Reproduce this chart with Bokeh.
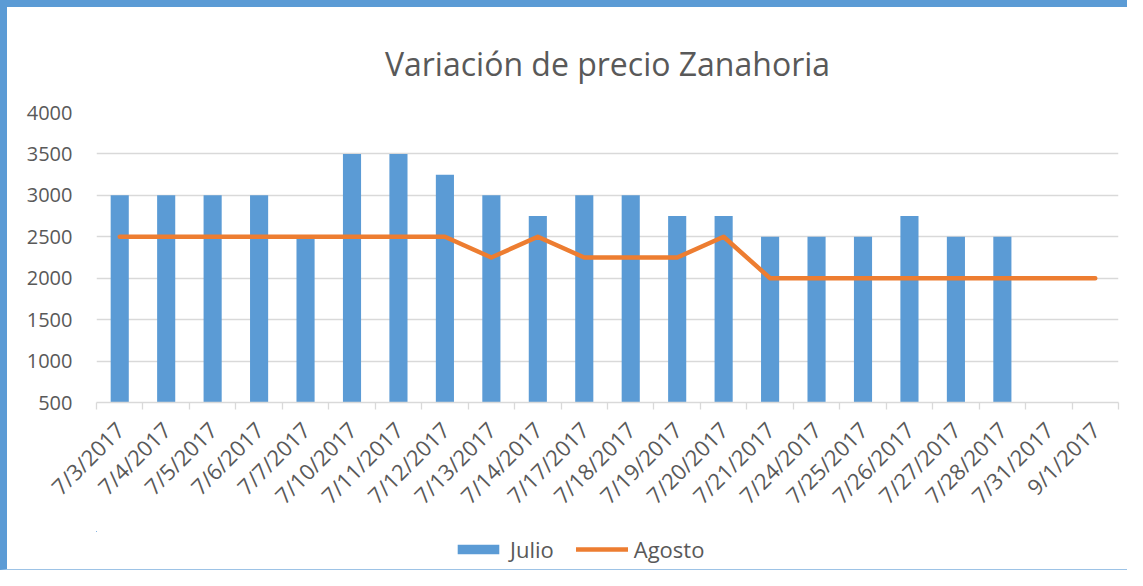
from bokeh.plotting import figure
from bokeh.models import (Legend, LegendItem, LinearAxis, FixedTicker, Range1d,
                          ColumnDataSource)
from bokeh.layouts import column
from bokeh.embed import file_html
from bokeh.resources import INLINE
import math

categories = ["7/3/2017", "7/4/2017", "7/5/2017", "7/6/2017", "7/7/2017",
              "7/10/2017", "7/11/2017", "7/12/2017", "7/13/2017", "7/14/2017",
              "7/17/2017", "7/18/2017", "7/19/2017", "7/20/2017", "7/21/2017",
              "7/24/2017", "7/25/2017", "7/26/2017", "7/27/2017", "7/28/2017",
              "7/31/2017", "9/1/2017"]
julio = [3000, 3000, 3000, 3000, 2500, 3500, 3500, 3250, 3000, 2750,
         3000, 3000, 2750, 2750, 2500, 2500, 2500, 2750, 2500, 2500,
         float("nan"), float("nan")]
agosto = [2500, 2500, 2500, 2500, 2500, 2500, 2500, 2500, 2250, 2500,
          2250, 2250, 2250, 2500, 2000, 2000, 2000, 2000, 2000, 2000,
          2000, 2000]
y_ticks = [500, 1000, 1500, 2000, 2500, 3000, 3500, 4000]

FONT = "Open Sans"
GREY = "#595959"
BLUE = "#5B9BD5"
ORANGE = "#ED7D31"
n = len(categories)
xs = list(range(n))

src = ColumnDataSource(dict(x=xs, julio=julio, agosto=agosto))

p = figure(width=1120, height=524, output_backend="svg", toolbar_location=None,
           x_range=Range1d(-0.5, n - 0.5), y_range=Range1d(y_ticks[0], y_ticks[-1]),
           x_axis_type=None, min_border_left=89, min_border_right=9,
           min_border_top=105, min_border_bottom=129)
p.outline_line_color = None

p.title.text = "Variación de precio Zanahoria"
p.title.align = "center"
p.title.text_font = FONT
p.title.text_font_size = "32px"
p.title.text_font_style = "normal"
p.title.text_color = GREY
p.title.offset = 0
p.title.standoff = 55

# y axis
p.yaxis.ticker = FixedTicker(ticks=y_ticks)
p.yaxis.axis_line_color = None
p.yaxis.major_tick_line_color = None
p.yaxis.minor_tick_line_color = None
p.yaxis.major_label_text_font = FONT
p.yaxis.major_label_text_font_size = "20px"
p.yaxis.major_label_text_color = GREY
p.yaxis.major_label_standoff = 18
p.ygrid.ticker = FixedTicker(ticks=y_ticks)
p.ygrid.grid_line_color = "#D9D9D9"
p.ygrid.grid_line_width = 1.3
p.xgrid.visible = False

# x axis with boundary ticks
bounds = [i - 0.5 for i in range(n + 1)]
tick_axis = LinearAxis(ticker=FixedTicker(ticks=bounds))
tick_axis.major_label_text_font_size = "0px"
tick_axis.major_label_text_color = None
tick_axis.axis_line_color = "#D9D9D9"
tick_axis.axis_line_width = 1.3
tick_axis.major_tick_line_color = "#D9D9D9"
tick_axis.major_tick_line_width = 1.3
tick_axis.major_tick_out = 7
tick_axis.major_tick_in = 0
tick_axis.minor_tick_line_color = None
tick_axis.major_label_standoff = 0
p.add_layout(tick_axis, "below")

label_axis = LinearAxis(ticker=FixedTicker(ticks=xs))
label_axis.major_label_overrides = {i: c for i, c in enumerate(categories)}
label_axis.major_label_orientation = math.pi / 4
label_axis.major_label_text_font = FONT
label_axis.major_label_text_font_size = "22px"
label_axis.major_label_text_color = GREY
label_axis.axis_line_color = None
label_axis.major_tick_line_color = None
label_axis.minor_tick_line_color = None
label_axis.major_label_standoff = 10
p.add_layout(label_axis, "below")

p.vbar(x="x", top="julio", bottom=0, width=0.39, source=src,
       fill_color=BLUE, line_color=None)
p.line(x="x", y="agosto", source=src, line_color=ORANGE,
       line_width=4.5, line_cap="round", line_join="round")

# legend strip: a small figure whose ranges show none of the data,
# carrying glyphs with the same styles for the legend entries
lg = figure(width=1120, height=38, output_backend="svg", toolbar_location=None,
            x_axis_type=None, y_axis_type=None, min_border=0,
            x_range=Range1d(1000, 1001), y_range=Range1d(-10, -9))
lg.outline_line_color = None
lg.grid.visible = False
lb = lg.vbar(x="x", top="julio", width=0.39, source=src, fill_color=BLUE, line_color=None)
ll = lg.line(x="x", y="agosto", source=src, line_color=ORANGE, line_width=4.5,
             line_cap="round")
legend = Legend(items=[LegendItem(label="Julio", renderers=[lb]),
                       LegendItem(label="Agosto", renderers=[ll])],
                orientation="horizontal", location=(356, 5))
legend.label_text_font = FONT
legend.label_text_font_size = "22px"
legend.label_text_color = GREY
legend.glyph_width = 52
legend.glyph_height = 12
legend.label_standoff = 6
legend.spacing = 22
legend.padding = 5
legend.margin = 0
legend.border_line_color = None
legend.background_fill_alpha = 0
lg.add_layout(legend, "center")

layout = column(p, lg, spacing=0,
                styles={"border-left": "7px solid #5B9BD5",
                        "border-top": "7px solid #5B9BD5",
                        "border-bottom": "1px solid #9DC3E6"})

open("out.html", "w").write(file_html(layout, INLINE))
